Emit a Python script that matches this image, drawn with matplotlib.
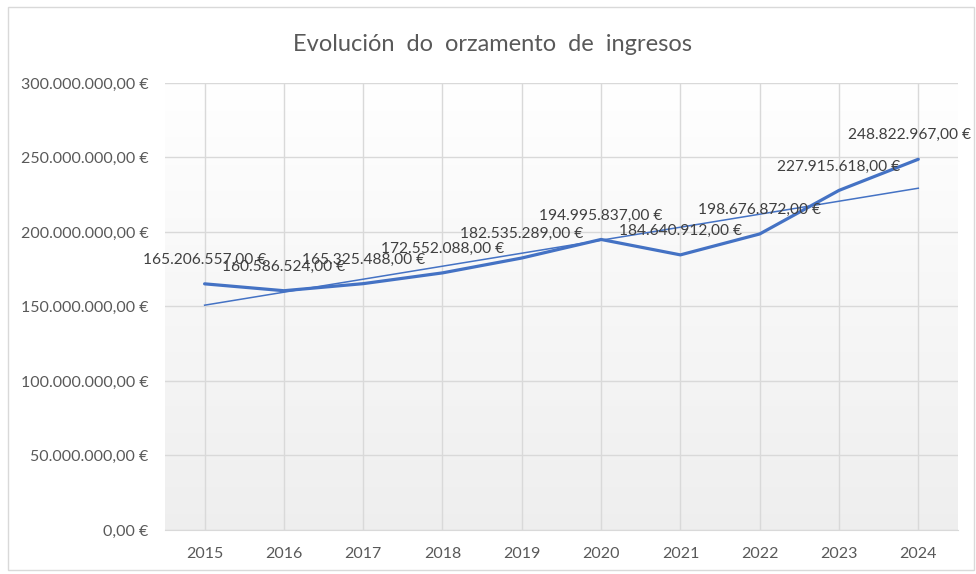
import matplotlib as mpl
import matplotlib.pyplot as plt
import numpy as np
from matplotlib.patches import Rectangle
from matplotlib.ticker import FuncFormatter

mpl.rcParams.update({
    "font.family": ["Lato", "DejaVu Sans"],
    "font.size": 11.5,
})

# ── Data ──
years = ["2015", "2016", "2017", "2018", "2019", "2020", "2021", "2022", "2023", "2024"]
ingresos = [165206557.00, 160586524.00, 165325488.00, 172552088.00, 182535289.00,
            194995837.00, 184640912.00, 198676872.00, 227915618.00, 248822967.00]
y_ticks = [0, 50e6, 100e6, 150e6, 200e6, 250e6, 300e6]

BLUE = "#4472C4"
GRID = "#d9d9d9"
TXT = "#595959"


def euro(v, pos=None):
    s = f"{v:,.2f}"
    s = s.replace(",", "X").replace(".", ",").replace("X", ".")
    return f"{s} €"


fig = plt.figure(figsize=(9.76, 5.74), dpi=100)
ax = fig.add_axes([0.169, 0.0767, 0.8125, 0.7787])

x = np.arange(len(years))
vals = np.array(ingresos)

# gradient background for plot area
grad = np.linspace(1.0, 0.935, 256).reshape(-1, 1)
ax.imshow(np.dstack([grad, grad, grad]), extent=[0, 1, 0, 1], transform=ax.transAxes,
          aspect="auto", zorder=0)

ax.set_xlim(-0.5, len(years) - 0.5)
ax.set_ylim(0, 300e6)
ax.set_yticks(y_ticks)
ax.yaxis.set_major_formatter(FuncFormatter(euro))
ax.set_xticks(x)
ax.set_xticklabels(years)
ax.grid(True, color=GRID, linewidth=1.0, zorder=1)
ax.set_axisbelow(True)
for s in ["left", "right", "top"]:
    ax.spines[s].set_visible(False)
ax.spines["bottom"].set_color(GRID)
ax.tick_params(length=0, colors=TXT, labelsize=11.5)
ax.tick_params(axis="y", pad=12)
ax.tick_params(axis="x", pad=12)

# series + linear trend
ax.plot(x, vals, color=BLUE, linewidth=2.3, solid_capstyle="round", zorder=3)
k, b = np.polyfit(x, vals, 1)
ax.plot(x, k * x + b, color=BLUE, linewidth=1.1, zorder=4)

# data labels
for i, v in enumerate(vals):
    dx = -9 if i == len(vals) - 1 else 0
    ax.annotate(euro(v), (x[i], v), xytext=(dx, 24), textcoords="offset pixels",
                ha="center", va="center", color="#404040", fontsize=11.2, zorder=5)

fig.text(0.505, 0.922, "Evolución  do  orzamento  de  ingresos", ha="center", va="center",
         fontsize=17, color=TXT)

fig.patches.append(Rectangle((0.008, 0.007), 0.99, 0.98, transform=fig.transFigure,
                             fill=False, edgecolor=GRID, linewidth=1.0))

fig.savefig("out.png", dpi=100, facecolor="white")
